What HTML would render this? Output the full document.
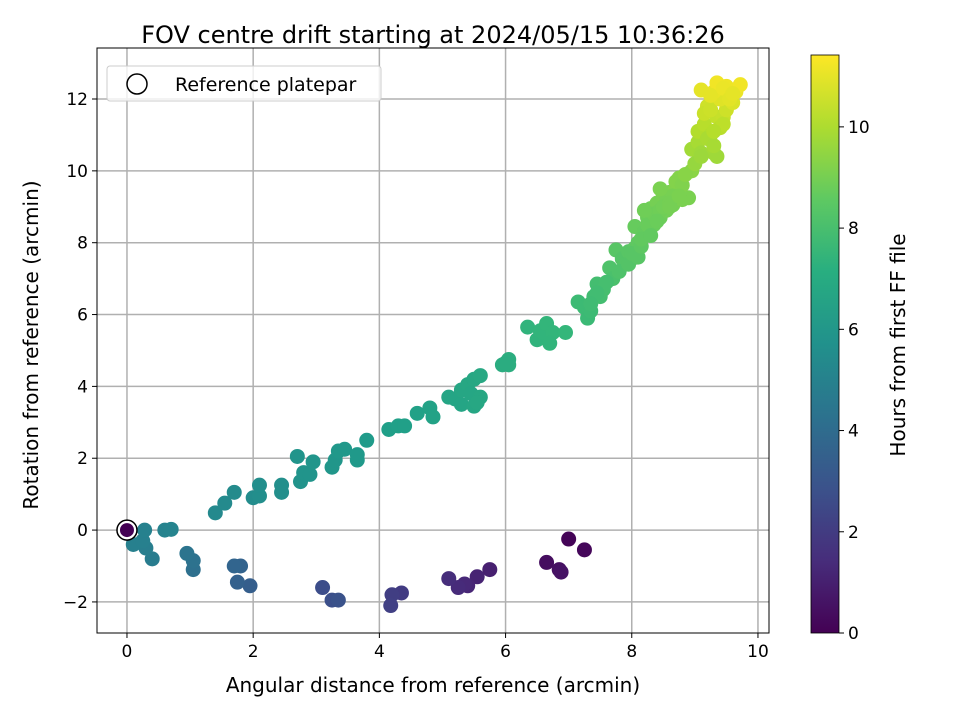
<!DOCTYPE html>
<html><head><meta charset="utf-8"><style>
body{margin:0;background:#fff;font-family:"DejaVu Sans","Liberation Sans",sans-serif;}
svg text{font-family:"DejaVu Sans","Liberation Sans",sans-serif;}
</style></head><body>
<svg id="chart" width="960" height="720" xmlns="http://www.w3.org/2000/svg">
<defs>
<linearGradient id="vir" x1="0" y1="1" x2="0" y2="0">
<stop offset="0" stop-color="#440154"/><stop offset="0.125" stop-color="#472d7b"/><stop offset="0.25" stop-color="#3b528b"/><stop offset="0.375" stop-color="#2c728e"/><stop offset="0.5" stop-color="#21918c"/><stop offset="0.625" stop-color="#28ae80"/><stop offset="0.75" stop-color="#5ec962"/><stop offset="0.875" stop-color="#addc30"/><stop offset="1" stop-color="#fde725"/>
</linearGradient>
</defs>
<rect x="0" y="0" width="960" height="720" fill="#fff"/>
<text x="433" y="43" font-size="24" text-anchor="middle">FOV centre drift starting at 2024/05/15 10:36:26</text>
<g id="grid"></g>
<g id="points"></g>
<rect x="97" y="48" width="672" height="585" fill="none" stroke="#000" stroke-width="1"/>
<g id="ticks"></g>
<text x="433" y="692" font-size="20" text-anchor="middle">Angular distance from reference (arcmin)</text>
<text x="38" y="345" font-size="20" text-anchor="middle" transform="rotate(-90 38 345)">Rotation from reference (arcmin)</text>
<g>
<rect x="107" y="66" width="274" height="35" rx="3" fill="#fff" fill-opacity="0.8" stroke="#ccc"/>
<circle cx="137" cy="84" r="10" fill="#fff" stroke="#000" stroke-width="1.5"/>
<text x="175" y="91" font-size="19">Reference platepar</text>
</g>
<rect x="811" y="55" width="28" height="578" fill="url(#vir)" stroke="#000" stroke-width="0.8"/>
<g id="cbticks"></g>
<text x="905" y="345" font-size="20" text-anchor="middle" transform="rotate(-90 905 345)">Hours from first FF file</text>
</svg>
<script>
const xTicks=[0,2,4,6,8,10];
const yTicks=[-2,0,2,4,6,8,10,12];
const cTicks=[0,2,4,6,8,10];
const xs=[7.0,7.25,6.65,6.85,6.88, 5.75,5.55,5.4,5.35,5.25,5.1, 4.35,4.2,4.18, 3.1,3.25,3.35, 1.95,1.75,1.8,1.7, 1.05,1.05,0.95, 0.4,0.3,0.1,0.25,0.28,0.6,0.7,
1.4,1.55,1.7,2.0,2.1,2.1,2.45,2.45, 2.7,2.75,2.8,2.9,2.95,3.25,3.3,3.35,3.45,3.65,3.65,3.8,
4.15,4.3,4.4,4.6,4.8,4.85,5.1,5.2,5.3,5.3,5.4,5.5,5.5,5.45,5.6,5.55,5.6,
5.95,6.05,6.05,6.0, 6.35,6.5,6.55,6.6,6.65,6.75,6.7,6.95,
7.15,7.25,7.3,7.35,7.4,7.45,7.5,7.55,7.65,7.7,7.75,7.85,7.9,7.95,8.0,8.05,8.1,
7.8,7.95,8.0,8.1,8.15,7.6,7.45,7.35,
8.05,8.2,8.25,8.3,8.35,8.4,8.45,8.5,8.55,8.6,8.65,8.7,8.8,8.9,8.75,8.95,
8.15,8.25,8.35,8.45,8.55,8.65,8.3,8.4,8.5,8.6,8.7,8.8,8.85,8.2,8.45,8.6,8.75,
8.95,9.05,9.1,9.3,9.35,9.05,9.15,9.25,9.35,9.2,9.45,9.5,
9.0,9.1,9.2,9.3,9.4,9.15,9.25,9.45,9.55,9.3,9.5,
9.4,9.6,9.1,9.3,9.35,9.5,9.65,9.72,9.25,9.45,9.55,9.6];
const ys=[-0.25,-0.55,-0.9,-1.1,-1.17, -1.1,-1.3,-1.55,-1.5,-1.6,-1.35, -1.75,-1.8,-2.1, -1.6,-1.95,-1.95, -1.55,-1.45,-1.0,-1.0, -1.1,-0.85,-0.65, -0.8,-0.5,-0.4,-0.3,0.0,0.0,0.02,
0.48,0.75,1.05,0.9,0.95,1.25,1.25,1.05, 2.05,1.35,1.6,1.55,1.9,1.75,1.95,2.2,2.25,1.95,2.1,2.5,
2.8,2.9,2.9,3.25,3.4,3.15,3.7,3.65,3.5,3.9,4.05,4.2,3.45,3.8,3.7,3.55,4.3,
4.6,4.75,4.6,4.65, 5.65,5.3,5.55,5.5,5.75,5.5,5.2,5.5,
6.35,6.2,5.9,6.1,6.5,6.85,6.5,6.7,7.3,7.0,7.8,7.55,7.4,7.75,7.55,7.85,8.0,
7.2,7.4,7.7,7.6,7.9,6.9,6.6,6.3,
8.45,8.3,8.7,8.95,8.5,9.1,8.7,9.3,8.9,9.4,9.05,9.5,9.2,9.25,9.8,10.0,
8.1,8.5,8.8,8.9,9.2,9.3,8.2,8.6,9.0,9.1,9.7,9.6,9.9,8.9,9.5,9.0,9.3,
10.6,10.8,10.5,10.5,10.4,11.1,11.3,11.0,11.5,11.8,11.5,11.9,
10.2,10.4,10.9,10.7,11.2,11.6,11.7,11.3,12.0,11.1,11.7,
12.0,11.9,12.25,12.2,12.45,12.35,12.2,12.4,12.1,12.3,12.0,12.15];
const hs=[0.1,0.2,0.4,0.5,0.55, 1.0,1.1,1.2,1.3,1.4,1.5, 2.0,2.1,2.2, 2.7,2.8,2.9, 3.4,3.5,3.6,3.7, 4.2,4.3,4.4, 4.8,4.9,5.0,5.0,5.05,5.1,5.15,
5.4,5.45,5.5,5.55,5.6,5.6,5.65,5.65, 5.9,5.85,5.9,5.9,5.95,6.0,6.0,6.05,6.05,6.1,6.1,6.2,
6.4,6.45,6.45,6.5,6.55,6.55,6.7,6.7,6.7,6.75,6.8,6.8,6.75,6.75,6.8,6.8,6.85,
7.05,7.1,7.1,7.05, 7.4,7.4,7.45,7.45,7.5,7.5,7.45,7.55,
7.8,7.8,7.75,7.8,7.9,7.95,7.95,8.0,8.2,8.1,8.4,8.3,8.3,8.4,8.4,8.5,8.55,
8.2,8.3,8.4,8.4,8.5,8.0,7.9,7.85,
8.7,8.65,8.8,8.9,8.75,9.0,8.85,9.05,8.95,9.1,9.0,9.2,9.1,9.1,9.3,9.4,
8.6,8.75,8.85,8.9,9.0,9.05,8.6,8.8,8.95,9.0,9.25,9.2,9.35,8.9,9.1,9.0,9.1,
9.8,9.9,9.75,9.8,9.75,10.1,10.2,10.1,10.4,10.6,10.45,10.7,
9.6,9.7,9.95,9.9,10.2,10.5,10.55,10.3,10.8,10.15,10.6,
10.9,10.8,11.0,11.05,11.2,11.15,11.1,11.2,11.0,11.1,10.95,11.0];
const NS='http://www.w3.org/2000/svg';
const X0=97,X1=769,XMIN=-0.475,XMAX=10.175;
const Y0=633,Y1=48,YMIN=-2.865,YMAX=13.42;
const CMAX=11.42;
function sx(v){return X0+(v-XMIN)/(XMAX-XMIN)*(X1-X0);}
function sy(v){return Y0-(v-YMIN)/(YMAX-YMIN)*(Y0-Y1);}
function sc(v){return 633-v/CMAX*578;}
const vir=[[68,1,84],[72,40,120],[62,73,137],[49,104,142],[38,130,142],[31,158,137],[53,183,121],[110,206,88],[181,222,43],[253,231,37]];
function color(h){let t=Math.max(0,Math.min(1,h/CMAX))*(vir.length-1);let i=Math.min(Math.floor(t),vir.length-2),f=t-i;const a=vir[i],b=vir[i+1];return 'rgb('+a.map((c,k)=>Math.round(c+(b[k]-c)*f)).join(',')+')';}
function mk(tag,attrs,parent){const e=document.createElementNS(NS,tag);for(const k in attrs)e.setAttribute(k,attrs[k]);parent.appendChild(e);return e;}
const grid=document.getElementById('grid'),ticks=document.getElementById('ticks');
xTicks.forEach(t=>{
  const g=mk('line',{x1:sx(t),x2:sx(t),y1:Y1,y2:Y0,stroke:'#b0b0b0','stroke-width':1.5},grid);
  
  
  mk('line',{x1:sx(t),x2:sx(t),y1:Y0,y2:Y0+5,stroke:'#000'},ticks);
  const l=mk('text',{x:sx(t),y:Y0+24,'font-size':17,'text-anchor':'middle'},ticks);
  l.textContent=String(t);
  
  
});
yTicks.forEach(t=>{
  const g=mk('line',{x1:X0,x2:X1,y1:sy(t),y2:sy(t),stroke:'#b0b0b0','stroke-width':1.5},grid);
  
  
  mk('line',{x1:X0-5,x2:X0,y1:sy(t),y2:sy(t),stroke:'#000'},ticks);
  const l=mk('text',{x:X0-9,y:sy(t)+6,'font-size':17,'text-anchor':'end'},ticks);
  l.textContent=t<0?'\u2212'+Math.abs(t):String(t);
  
  
});
const cb=document.getElementById('cbticks');
cTicks.forEach(t=>{
  mk('line',{x1:839,x2:844,y1:sc(t),y2:sc(t),stroke:'#000'},cb);
  const l=mk('text',{x:848,y:sc(t)+6,'font-size':17},cb);
  l.textContent=String(t);
  
  
});
const pts=document.getElementById('points');
xs.forEach((x,i)=>{
  const c=mk('circle',{cx:sx(x),cy:sy(ys[i]),r:7.5,fill:color(hs[i])},pts);
  
  
});
const r=mk('circle',{cx:sx(0),cy:sy(0),r:10,fill:'#fff',stroke:'#000','stroke-width':1.5},pts);


const r2=mk('circle',{cx:sx(0),cy:sy(0),r:7,fill:color(0)},pts);


</script>
</body></html>
